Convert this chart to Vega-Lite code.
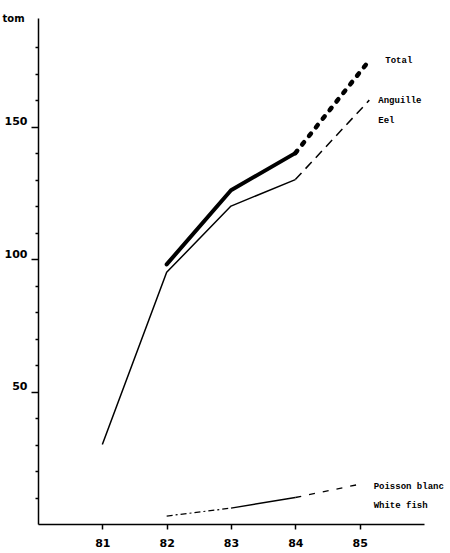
{
  "$schema": "https://vega.github.io/schema/vega-lite/v6.json",
  "description": "Eel and white fish catch, tonnes, 1981-1985",
  "autosize": "none",
  "padding": {"left": 38, "top": 18, "right": 26, "bottom": 29},
  "width": 386,
  "height": 506,
  "datasets": {
    "catch": [
      {"style": "eel_solid", "year": 81, "t": 30},
      {"style": "eel_solid", "year": 82, "t": 95},
      {"style": "eel_solid", "year": 83, "t": 120},
      {"style": "eel_solid", "year": 84, "t": 130},
      {"style": "eel_dash", "year": 84, "t": 130},
      {"style": "eel_dash", "year": 85.15, "t": 160},
      {"style": "total_solid", "year": 82, "t": 98},
      {"style": "total_solid", "year": 83, "t": 126},
      {"style": "total_solid", "year": 84, "t": 140},
      {"style": "total_dash", "year": 84, "t": 140},
      {"style": "total_dash", "year": 85.15, "t": 175},
      {"style": "wf_dashdot", "year": 82, "t": 3},
      {"style": "wf_dashdot", "year": 83, "t": 6},
      {"style": "wf_solid", "year": 83, "t": 6},
      {"style": "wf_solid", "year": 84, "t": 10},
      {"style": "wf_dash", "year": 84, "t": 10},
      {"style": "wf_dash", "year": 85, "t": 15}
    ],
    "labels": [
      {"series": "total", "line1": "Total", "line2": "", "year": 85.15, "t": 175},
      {"series": "eel", "line1": "Anguille", "line2": "Eel", "year": 85.15, "t": 160},
      {"series": "wf", "line1": "Poisson blanc", "line2": "White fish", "year": 85, "t": 15}
    ]
  },
  "encoding": {
    "x": {
      "field": "year",
      "type": "quantitative",
      "scale": {"domain": [80, 86], "nice": false},
      "axis": {
        "values": [81, 82, 83, 84, 85],
        "format": "d",
        "grid": false,
        "title": null,
        "domainColor": "black",
        "domainWidth": 1.5,
        "tickColor": "black",
        "tickWidth": 1.5,
        "tickSize": 5,
        "labelPadding": 8,
        "labelFont": "DejaVu Sans",
        "labelFontWeight": "bold",
        "labelFontSize": 11,
        "labelColor": "black"
      }
    },
    "y": {
      "field": "t",
      "type": "quantitative",
      "scale": {"domain": [0, 191], "nice": false},
      "axis": {
        "values": [10, 20, 30, 40, 50, 60, 70, 80, 90, 100, 110, 120, 130, 140, 150, 160, 170, 180],
        "labelExpr": "datum.value % 50 == 0 ? datum.label : ''",
        "grid": false,
        "title": "tom",
        "titleAngle": 0,
        "titleX": -36,
        "titleY": 0,
        "titleAlign": "left",
        "titleBaseline": "middle",
        "titleFont": "DejaVu Sans",
        "titleFontSize": 10,
        "titleFontWeight": "bold",
        "titleColor": "black",
        "domainColor": "black",
        "domainWidth": 1.5,
        "tickColor": "black",
        "tickWidth": 1.5,
        "tickSize": {"condition": {"test": "datum.value % 50 == 0", "value": 7}, "value": 3},
        "labelPadding": 4,
        "labelBaseline": "bottom",
        "labelFont": "DejaVu Sans",
        "labelFontWeight": "bold",
        "labelFontSize": 11,
        "labelColor": "black"
      }
    }
  },
  "layer": [
    {
      "data": {"name": "catch"},
      "transform": [{"filter": "datum.style == 'eel_solid'"}],
      "mark": {"type": "line", "color": "black", "strokeWidth": 1.5, "strokeJoin": "round"}
    },
    {
      "data": {"name": "catch"},
      "transform": [{"filter": "datum.style == 'eel_dash'"}],
      "mark": {"type": "line", "color": "black", "strokeWidth": 1.5, "strokeDash": [9, 6]}
    },
    {
      "data": {"name": "catch"},
      "transform": [{"filter": "datum.style == 'total_solid'"}],
      "mark": {"type": "line", "color": "black", "strokeWidth": 4, "strokeCap": "round", "strokeJoin": "round"}
    },
    {
      "data": {"name": "catch"},
      "transform": [{"filter": "datum.style == 'total_dash'"}],
      "mark": {"type": "line", "color": "black", "strokeWidth": 4.5, "strokeCap": "round", "strokeDash": [3, 8]}
    },
    {
      "data": {"name": "catch"},
      "transform": [{"filter": "datum.style == 'wf_dashdot'"}],
      "mark": {"type": "line", "color": "black", "strokeWidth": 1.2, "strokeDash": [6, 3, 2, 3]}
    },
    {
      "data": {"name": "catch"},
      "transform": [{"filter": "datum.style == 'wf_solid'"}],
      "mark": {"type": "line", "color": "black", "strokeWidth": 1.4}
    },
    {
      "data": {"name": "catch"},
      "transform": [{"filter": "datum.style == 'wf_dash'"}],
      "mark": {"type": "line", "color": "black", "strokeWidth": 1.3, "strokeDash": [6, 8]}
    },
    {
      "data": {"name": "labels"},
      "transform": [{"filter": "datum.series == 'total'"}],
      "mark": {"type": "text", "align": "left", "baseline": "middle", "dx": 16, "font": "Liberation Mono", "fontWeight": "bold", "fontSize": 9, "color": "black"},
      "encoding": {"text": {"field": "line1"}}
    },
    {
      "data": {"name": "labels"},
      "transform": [{"filter": "datum.series == 'eel'"}],
      "mark": {"type": "text", "align": "left", "baseline": "middle", "dx": 9, "font": "Liberation Mono", "fontWeight": "bold", "fontSize": 9, "color": "black"},
      "encoding": {"text": {"field": "line1"}}
    },
    {
      "data": {"name": "labels"},
      "transform": [{"filter": "datum.series == 'eel'"}],
      "mark": {"type": "text", "align": "left", "baseline": "middle", "dx": 9, "dy": 20, "font": "Liberation Mono", "fontWeight": "bold", "fontSize": 9, "color": "black"},
      "encoding": {"text": {"field": "line2"}}
    },
    {
      "data": {"name": "labels"},
      "transform": [{"filter": "datum.series == 'wf'"}],
      "mark": {"type": "text", "align": "left", "baseline": "middle", "dx": 14, "dy": 2, "font": "Liberation Mono", "fontWeight": "bold", "fontSize": 9, "color": "black"},
      "encoding": {"text": {"field": "line1"}}
    },
    {
      "data": {"name": "labels"},
      "transform": [{"filter": "datum.series == 'wf'"}],
      "mark": {"type": "text", "align": "left", "baseline": "middle", "dx": 14, "dy": 21, "font": "Liberation Mono", "fontWeight": "bold", "fontSize": 9, "color": "black"},
      "encoding": {"text": {"field": "line2"}}
    }
  ],
  "config": {"view": {"stroke": null}, "background": "white"}
}
